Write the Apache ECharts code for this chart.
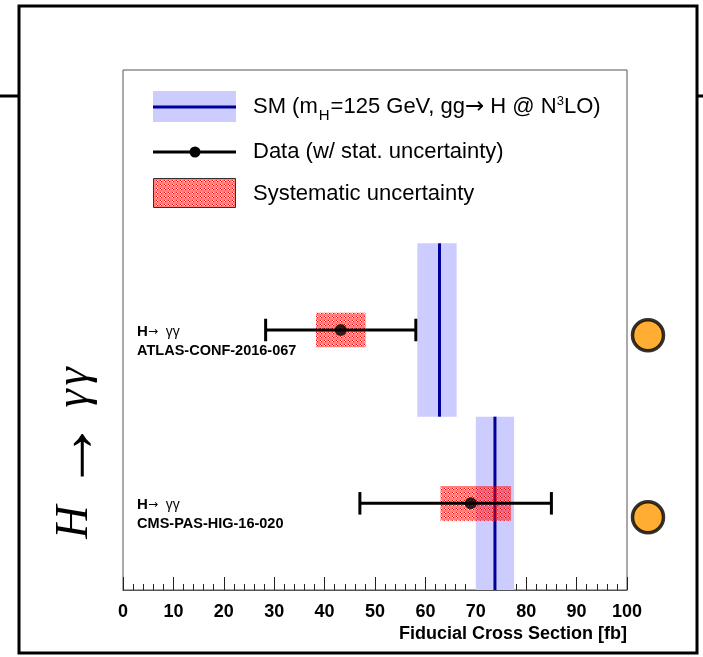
<!DOCTYPE html>
<html>
<head>
<meta charset="utf-8">
<script src="https://cdn.jsdelivr.net/npm/echarts@6/dist/echarts.min.js"></script>
<style>
  html, body { margin: 0; padding: 0; background: #fff; }
  #chart { width: 703px; height: 657px; }
</style>
</head>
<body>
<div id="chart"></div>
<script>
// Fiducial cross sections for H -> gamma gamma, in fb
const experiments = ['ATLAS-CONF-2016-067', 'CMS-PAS-HIG-16-020'];
const rowCenter = [1.5, 0.5];          // vertical slot of each measurement
const measured = [43.2, 69.0];
const statLow = [28.3, 47.0];
const statHigh = [58.1, 85.0];
const systLow = [38.3, 63.0];
const systHigh = [48.1, 77.0];
// Standard Model prediction (gg -> H @ N3LO)
const smCentral = [62.8, 73.8];
const smLow = [58.4, 70.0];
const smHigh = [66.2, 77.6];
// Status markers beside each row
const markerRows = [1.47, 0.42];
const markerX = [0.45, 0.45];
// x-axis
const xMin = 0, xMax = 100, xStep = 10;

const FONT = '"Liberation Sans", Arial, Helvetica, sans-serif';
const SYM = '"DejaVu Sans", sans-serif';
const SERIF = '"Liberation Serif", "Times New Roman", serif';

// Red dotted fill used for systematic uncertainty boxes
function makeChecker() {
  const c = document.createElement('canvas');
  c.width = 4; c.height = 4;
  const g = c.getContext('2d');
  g.fillStyle = 'rgba(255,0,0,0.5)';
  g.fillRect(0, 0, 4, 4);
  g.clearRect(1, 0, 1, 1);
  g.clearRect(0, 1, 1, 1);
  g.fillStyle = '#ff0000';
  g.fillRect(0, 0, 1, 1);
  g.fillRect(1, 1, 1, 1);
  return c;
}
const checker = { image: makeChecker(), repeat: 'repeat' };

const halfRow = 0.5, halfSyst = 0.1, halfCap = 0.065;

const chart = echarts.init(document.getElementById('chart'), null, { renderer: 'canvas' });

const option = {
  animation: false,
  backgroundColor: '#fff',
  grid: [
    { left: 123, top: 70, width: 504, height: 520, show: true, borderColor: '#555', borderWidth: 1, backgroundColor: 'transparent' },
    { left: 630, top: 70, width: 40, height: 520, show: false }
  ],
  xAxis: [
    {
      type: 'value', gridIndex: 0, min: xMin, max: xMax, interval: xStep,
      axisLine: { show: true, lineStyle: { color: '#555', width: 1 } },
      axisTick: { show: true, inside: true, length: 13, lineStyle: { color: '#222', width: 1 } },
      minorTick: { show: true, splitNumber: 5, length: 6, lineStyle: { color: '#222', width: 1 } },
      axisLabel: { color: '#000', fontFamily: FONT, fontWeight: 'bold', fontSize: 18, margin: 13 },
      splitLine: { show: false }
    },
    { type: 'value', gridIndex: 1, min: 0, max: 1, show: false }
  ],
  yAxis: [
    { type: 'value', gridIndex: 0, min: 0, max: 3, show: false },
    { type: 'value', gridIndex: 1, min: 0, max: 3, show: false }
  ],
  series: [
    // SM prediction band
    {
      type: 'custom', xAxisIndex: 0, yAxisIndex: 0,
      data: experiments.map((_, i) => [smLow[i], smHigh[i], rowCenter[i]]),
      encode: { x: [0, 1], y: 2 },
      renderItem(params, api) {
        const y = api.value(2);
        const a = api.coord([api.value(0), y + halfRow]);
        const b = api.coord([api.value(1), y - halfRow]);
        return { type: 'rect', shape: { x: a[0], y: a[1], width: b[0] - a[0], height: b[1] - a[1] }, style: { fill: '#ccccff' } };
      }
    },
    // SM central value
    {
      type: 'custom', xAxisIndex: 0, yAxisIndex: 0,
      data: experiments.map((_, i) => [smCentral[i], rowCenter[i]]),
      encode: { x: 0, y: 1 },
      renderItem(params, api) {
        const y = api.value(1);
        const a = api.coord([api.value(0), y + halfRow]);
        const b = api.coord([api.value(0), y - halfRow]);
        return { type: 'line', shape: { x1: a[0], y1: a[1], x2: b[0], y2: b[1] }, style: { stroke: '#000099', lineWidth: 3 } };
      }
    },
    // Systematic uncertainty boxes
    {
      type: 'custom', xAxisIndex: 0, yAxisIndex: 0,
      data: experiments.map((_, i) => [systLow[i], systHigh[i], rowCenter[i]]),
      encode: { x: [0, 1], y: 2 },
      renderItem(params, api) {
        const y = api.value(2);
        const a = api.coord([api.value(0), y + halfSyst]);
        const b = api.coord([api.value(1), y - halfSyst]);
        return { type: 'rect', shape: { x: a[0], y: a[1], width: b[0] - a[0], height: b[1] - a[1] }, style: { fill: checker } };
      }
    },
    // Statistical error bars
    {
      type: 'custom', xAxisIndex: 0, yAxisIndex: 0,
      data: experiments.map((_, i) => [statLow[i], statHigh[i], rowCenter[i]]),
      encode: { x: [0, 1], y: 2 },
      renderItem(params, api) {
        const y = api.value(2);
        const l = api.coord([api.value(0), y]);
        const r = api.coord([api.value(1), y]);
        const capT = api.coord([api.value(0), y + halfCap])[1];
        const capB = api.coord([api.value(0), y - halfCap])[1];
        const st = { stroke: '#000', lineWidth: 3 };
        return {
          type: 'group',
          children: [
            { type: 'line', shape: { x1: l[0], y1: l[1], x2: r[0], y2: r[1] }, style: st },
            { type: 'line', shape: { x1: l[0], y1: capT, x2: l[0], y2: capB }, style: st },
            { type: 'line', shape: { x1: r[0], y1: capT, x2: r[0], y2: capB }, style: st }
          ]
        };
      }
    },
    // Measured central values
    {
      type: 'scatter', xAxisIndex: 0, yAxisIndex: 0,
      data: experiments.map((_, i) => [measured[i], rowCenter[i]]),
      symbol: 'circle', symbolSize: 12,
      itemStyle: { color: '#000' }
    },
    // Row labels
    {
      type: 'custom', xAxisIndex: 0, yAxisIndex: 0,
      data: experiments.map((_, i) => [2.8, rowCenter[i], i]),
      encode: { x: 0, y: 1 },
      renderItem(params, api) {
        const i = api.value(2);
        const p = api.coord([api.value(0), api.value(1)]);
        return {
          type: 'group',
          children: [
            { type: 'text', style: { x: p[0], y: p[1] + 2, text: '{h|H}{a|\u2192}{g|  \u03b3\u03b3}', align: 'left', verticalAlign: 'middle',
              rich: {
                h: { fontFamily: FONT, fontWeight: 'bold', fontSize: 15, fill: '#000' },
                a: { fontFamily: SYM, fontSize: 12, fill: '#000' },
                g: { fontFamily: FONT, fontSize: 14, fill: '#000' }
              } } },
            { type: 'text', style: { x: p[0], y: p[1] + 21, text: experiments[i], align: 'left', verticalAlign: 'middle',
              font: 'bold 14.5px ' + FONT, fill: '#000' } }
          ]
        };
      }
    },
    // Status markers
    {
      type: 'scatter', xAxisIndex: 1, yAxisIndex: 1,
      data: markerRows.map((y, i) => [markerX[i], y]),
      symbol: 'circle', symbolSize: 31,
      itemStyle: { color: '#ff9900', borderColor: '#000', borderWidth: 3.5 }
    }
  ],
  graphic: [
    // outer frame
    { type: 'line', z: -2, shape: { x1: 0, y1: 96, x2: 703, y2: 96 }, style: { stroke: '#000', lineWidth: 3 } },
    { type: 'rect', z: -1, shape: { x: 19, y: 6, width: 678, height: 647 }, style: { fill: '#fff', stroke: '#000', lineWidth: 3 } },
    // legend: SM
    { type: 'rect', shape: { x: 153, y: 91, width: 83, height: 31 }, style: { fill: '#ccccff' } },
    { type: 'line', shape: { x1: 153, y1: 107, x2: 236, y2: 107 }, style: { stroke: '#000099', lineWidth: 3 } },
    { type: 'text', style: { x: 253, y: 107, verticalAlign: 'middle', align: 'left',
        text: '{n|SM (m}{sub|H}{n|=125 GeV, gg}{a|\u2192}{n| H @ N}{sup|3}{n|LO)}',
        rich: {
          n: { fontFamily: FONT, fontSize: 22, fill: '#000' },
          a: { fontFamily: SYM, fontSize: 23, fill: '#000' },
          sub: { fontFamily: FONT, fontSize: 15, fill: '#000', padding: [18, 1, 0, 1] },
          sup: { fontFamily: FONT, fontSize: 13, fill: '#000', padding: [0, 0, 12, 0] }
        } } },
    // legend: data
    { type: 'line', shape: { x1: 153, y1: 152, x2: 236, y2: 152 }, style: { stroke: '#000', lineWidth: 3 } },
    { type: 'circle', shape: { cx: 195, cy: 152, r: 5.5 }, style: { fill: '#000' } },
    { type: 'text', style: { x: 253, y: 152, verticalAlign: 'middle', align: 'left', text: 'Data (w/ stat. uncertainty)', font: '22px ' + FONT, fill: '#000' } },
    // legend: systematics
    { type: 'rect', shape: { x: 153.5, y: 178.5, width: 82, height: 29 }, style: { fill: checker, stroke: '#333', lineWidth: 1 } },
    { type: 'text', style: { x: 253, y: 194, verticalAlign: 'middle', align: 'left', text: 'Systematic uncertainty', font: '22px ' + FONT, fill: '#000' } },
    // axis title
    { type: 'text', style: { x: 627, y: 634, verticalAlign: 'middle', align: 'right', text: 'Fiducial Cross Section [fb]', font: 'bold 18px ' + FONT, fill: '#000' } },
    // vertical title
    { type: 'text', x: 75, y: 453, rotation: Math.PI / 2,
      style: { x: 0, y: 0, align: 'center', verticalAlign: 'middle',
        text: '{i|H}{sp|}{a|\u2192}{sp2|}{i|\u03b3}{gap|}{i|\u03b3}',
        rich: {
          i: { fontFamily: SERIF, fontStyle: 'italic', fontSize: 46, fill: '#000' },
          a: { fontFamily: SERIF, fontSize: 72, fill: '#000' },
          sp: { width: 14 },
          sp2: { width: 12 },
          gap: { width: 4 }
        } } }
  ]
};

chart.setOption(option);
</script>
</body>
</html>
